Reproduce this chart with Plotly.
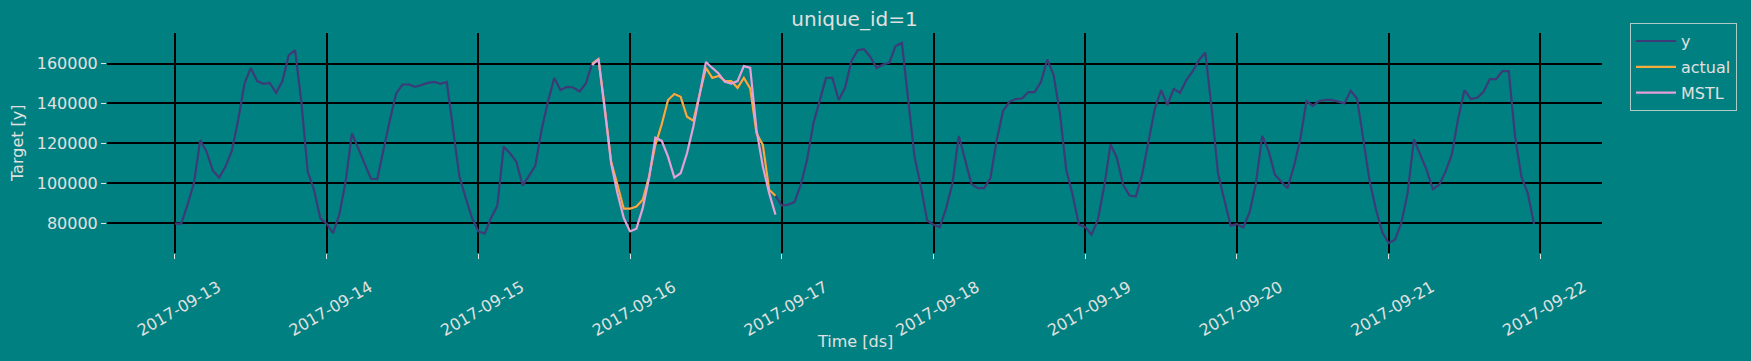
import pandas as pd
import plotly.graph_objects as go

# ---------------- data ----------------
start = "2017-09-13 00:00"
y_values = [
    # 2017-09-13
    79700, 79700, 89200, 100000, 121700, 115800, 106300, 102800, 108300, 116300, 131700, 150000,
    157800, 151200, 149800, 150300, 145300, 151200, 164200, 166700, 140800, 105800, 96700, 82200,
    # 2017-09-14
    79700, 75000, 84200, 100800, 125000, 117500, 109200, 102200, 102000, 117500, 131700, 145000,
    149500, 149500, 148300, 149200, 150300, 150800, 149800, 150800, 128300, 103300, 92500, 82500,
    # 2017-09-15
    75800, 74700, 82500, 88700, 118300, 115000, 110800, 98800, 103700, 108700, 126700, 140800,
    152800, 146700, 148300, 148000, 146000, 150000, 160000, 162300, 137500, 110800, 99200, 87200,
    # 2017-09-16
    87200, 88300, 91700, 103300, 119200, 129500, 141700, 144700, 143300, 133300, 131300, 144200,
    157800, 152800, 153800, 151300, 151200, 147800, 152800, 147500, 125000, 119200, 96700, 93700,
    # 2017-09-17
    88800, 89200, 90500, 99200, 111700, 130000, 141700, 152800, 152800, 141700, 147800, 161200,
    166700, 167200, 163300, 157800, 159500, 160300, 168800, 170300, 141700, 113300, 98300, 81300,
    # 2017-09-18
    79200, 78000, 87500, 100000, 123700, 111700, 99700, 97500, 97500, 102500, 121700, 136200,
    140800, 142200, 142500, 145700, 145700, 150800, 162000, 154200, 135000, 106700, 94200, 79200,
    # 2017-09-19
    78000, 74200, 81700, 98300, 119500, 112800, 99200, 93800, 93300, 104200, 120800, 137200,
    146700, 139200, 147300, 145300, 151700, 156200, 161700, 165500, 137500, 105000, 91700, 78700,
    # 2017-09-20
    79500, 77800, 85300, 100000, 123700, 116300, 104200, 100800, 97500, 108300, 121700, 141200,
    138800, 141200, 141800, 141800, 140800, 140000, 146300, 142500, 121700, 100800, 86700, 75300,
    # 2017-09-21
    70000, 71700, 80000, 95000, 122000, 114500, 106700, 97000, 99200, 105800, 114500, 132500,
    146700, 142200, 142800, 145800, 152200, 152200, 156200, 156200, 123300, 103300, 95000, 79500,
]

fc_start = "2017-09-15 18:00"
actual_values = [
    160000, 162300, 137500, 110800, 99200, 87200,
    87200, 88300, 91700, 103300, 119200, 129500, 141700, 144700, 143300, 133300, 131300, 144200,
    157800, 152800, 153800, 151300, 151200, 147800, 152800, 147500, 125000, 119200, 96700, 93700,
]
mstl_values = [
    159200, 162300, 136700, 110000, 95000, 82500,
    75800, 77200, 87500, 102500, 122800, 121200, 113300, 102800, 105000, 115000, 128300, 145000,
    160800, 157800, 155000, 150800, 150000, 151200, 158700, 157800, 126700, 108300, 95000, 84200,
]

y_ticks = [80000, 100000, 120000, 140000, 160000]
x_tick_labels = ["2017-09-13", "2017-09-14", "2017-09-15", "2017-09-16", "2017-09-17",
                 "2017-09-18", "2017-09-19", "2017-09-20", "2017-09-21", "2017-09-22"]

# ---------------- build ----------------
ds = pd.date_range(start, periods=len(y_values), freq="h")
ds_fc = pd.date_range(fc_start, periods=len(actual_values), freq="h")

BG = "#008080"
TXT = "#e0e0e0"
FONT = "DejaVu Sans"

fig = go.Figure()
fig.add_trace(go.Scatter(x=ds, y=y_values, mode="lines", name="y", legendgroup="y",
                         line=dict(color="#3d3a78", width=2.2)))
fig.add_trace(go.Scatter(x=ds_fc, y=actual_values, mode="lines", name="actual",
                         legendgroup="actual", line=dict(color="#f4ad3d", width=2.2)))
fig.add_trace(go.Scatter(x=ds_fc, y=mstl_values, mode="lines", name="MSTL",
                         legendgroup="MSTL", line=dict(color="#e4a0d8", width=2.2)))

# matplotlib-like 5% margins
t0, t1 = ds[0], ds[-1]
pad = (t1 - t0) * 0.05
all_vals = y_values + actual_values + mstl_values
vmin, vmax = min(all_vals), max(all_vals)
vpad = (vmax - vmin) * 0.05

fig.update_layout(
    width=1751, height=361,
    paper_bgcolor=BG, plot_bgcolor=BG,
    margin=dict(l=107, r=149, t=33, b=108),
    font=dict(family=FONT, size=16, color=TXT),
    title=dict(text="unique_id=1", x=0.5, xref="paper", xanchor="center",
               y=1 - 18.5 / 361, yref="container", yanchor="middle",
               font=dict(size=20, color=TXT)),
    showlegend=True,
    legend=dict(x=1.0187, y=1.045, xanchor="left", yanchor="top",
                bgcolor=BG, bordercolor="rgba(220,220,220,0.8)", borderwidth=1,
                font=dict(size=16, color=TXT), tracegroupgap=2, itemwidth=40),
)

fig.update_xaxes(
    range=[t0 - pad, t1 + pad],
    tickmode="array",
    tickvals=pd.to_datetime(x_tick_labels),
    ticktext=x_tick_labels,
    tickangle=-30,
    ticklabelshift=43, ticklabelstandoff=13,
    ticks="outside", ticklen=5, tickcolor=TXT,
    showgrid=True, gridcolor="black", gridwidth=1.5,
    zeroline=False, showline=False,
    tickfont=dict(size=16, color=TXT),
)
fig.update_yaxes(
    range=[vmin - vpad, vmax + vpad],
    tickmode="array", tickvals=y_ticks, ticktext=[str(v) for v in y_ticks],
    ticks="outside", ticklen=5, tickcolor=TXT,
    showgrid=True, gridcolor="black", gridwidth=1.5,
    zeroline=False, showline=False,
    tickfont=dict(size=16, color=TXT),
)

fig.add_annotation(text="Time [ds]", xref="paper", yref="paper", x=0.5,
                   y=-(341.5 - 253) / 220, xanchor="center", yanchor="middle",
                   showarrow=False, font=dict(size=16, color=TXT))
fig.add_annotation(text="Target [y]", xref="paper", yref="paper",
                   x=-(107 - 17) / 1495, y=0.5, xanchor="center", yanchor="middle",
                   textangle=-90, showarrow=False, font=dict(size=16, color=TXT))

fig.write_html("out.html", config={"displayModeBar": False},
               post_script="document.body.style.margin='0';document.body.style.overflow='hidden';")
